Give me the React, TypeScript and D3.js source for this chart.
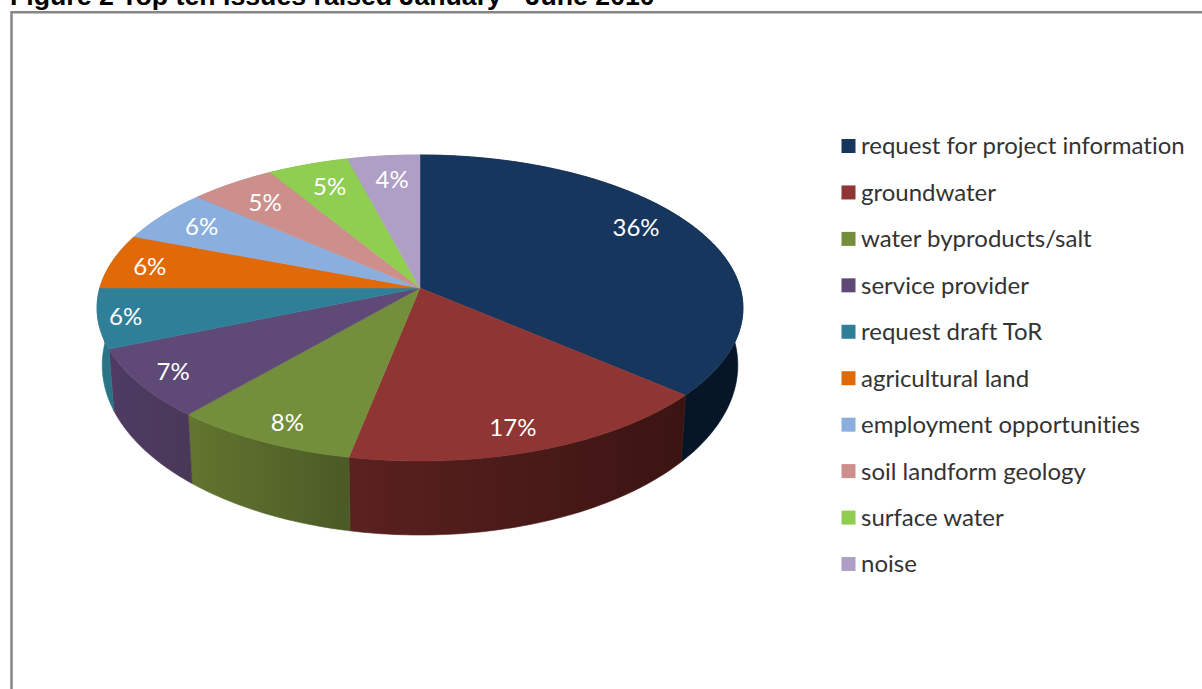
import React from 'react';
import * as d3 from 'd3';

const categories = [
  'request for project information',
  'groundwater',
  'water byproducts/salt',
  'service provider',
  'request draft ToR',
  'agricultural land',
  'employment opportunities',
  'soil landform geology',
  'surface water',
  'noise',
];
const values = [36.3, 16.8, 8.2, 7.4, 6.3, 5.8, 5.6, 4.9, 4.6, 4.1];
const topColors = ['#17365d', '#8f3533', '#748f3c', '#5f4976', '#2f7f99', '#e16a08', '#8aafdf', '#cd8f8c', '#8fce50', '#af9ec5'];
const wallLeft = ['#071626', '#5a211f', '#63752f', '#4f3b63', '#2a7488', '#b85608', '#7394bc', '#b37b79', '#78ab42', '#9385a4'];
const wallRight = ['#071626', '#3b1412', '#4b5a26', '#4a3859', '#2a7488', '#b85608', '#7394bc', '#b37b79', '#78ab42', '#9385a4'];

const title = 'Figure 2 Top ten issues raised January - June 2010';

// pie projection: apex, half axes and perspective
const apex = { x: 420, y: 288 };
const B = 320.2;
const A = 150.4;
const k = 0.1307;
const depthScaleX = 0.984;
const depthScaleY = 1.11;
const depthOffsetY = 23.3;

// excel's best-fit labels don't sit on one radius, so shift each one by hand
const labelNudge = [[-7, -12], [0, 13], [-9, 15], [-26, 8], [-38, 4], [-23, 0], [-10, -3], [-2, 0], [1, 0], [2, 0]];

const project = (angle: number, r = 1): [number, number] => {
  const u = Math.sin(angle) * r;
  const v = -Math.cos(angle) * r;
  const d = 1 - k * v;
  return [apex.x + (B * u) / d, apex.y + (A * v) / d];
};
const projectBottom = (angle: number): [number, number] => {
  const [x, y] = project(angle);
  return [apex.x + (x - apex.x) * depthScaleX, y * depthScaleY + depthOffsetY];
};

const arcAngles = (a0: number, a1: number) => {
  const n = Math.max(2, Math.ceil(((a1 - a0) * 180) / Math.PI));
  return d3.range(n + 1).map((i) => a0 + ((a1 - a0) * i) / n);
};

export default function App() {
  const slices = d3.pie<number>().sort(null)(values);
  const line = d3.line();
  const pct = d3.format('.0f');

  const legendY = d3.scalePoint<string>().domain(categories).range([146, 564]);

  return (
    <svg width={1202} height={689} style={{ position: 'absolute', left: 0, top: 0, background: '#fff' }}>
      <defs>
        {slices.map((s, i) => {
          const xs = arcAngles(s.startAngle, s.endAngle).map((a) => project(a)[0]);
          return (
            <linearGradient
              key={i}
              id={`wall${i}`}
              gradientUnits="userSpaceOnUse"
              x1={d3.min(xs)}
              x2={d3.max(xs)}
              y1={0}
              y2={0}
            >
              <stop offset="0" stopColor={wallLeft[i]} />
              <stop offset="1" stopColor={wallRight[i]} />
            </linearGradient>
          );
        })}
      </defs>

      <text x={10} y={5} fontFamily="'Liberation Sans', Arial, sans-serif" fontWeight="bold" fontSize={26.7} fill="#000">
        {title}
      </text>
      <path d="M1202,12.3H11.5V689" fill="none" stroke="#868686" strokeWidth={2.5} />

      {slices.map((s, i) => {
        const angles = arcAngles(s.startAngle, s.endAngle);
        const pts = [...angles.map((a) => project(a)), ...angles.slice().reverse().map((a) => projectBottom(a))];
        return <path key={i} d={line(pts) + 'Z'} fill={`url(#wall${i})`} stroke={`url(#wall${i})`} strokeWidth={0.6} />;
      })}

      {slices.map((s, i) => {
        const angles = arcAngles(s.startAngle, s.endAngle);
        const pts: [number, number][] = [[apex.x, apex.y], ...angles.map((a) => project(a))];
        return <path key={i} d={line(pts) + 'Z'} fill={topColors[i]} stroke={topColors[i]} strokeWidth={0.5} />;
      })}

      {slices.map((s, i) => {
        const [x, y] = project((s.startAngle + s.endAngle) / 2, 0.8);
        return (
          <text
            key={i}
            x={x + labelNudge[i][0]}
            y={y + labelNudge[i][1]}
            dy="0.35em"
            textAnchor="middle"
            fontFamily="Lato, sans-serif"
            fontSize={24}
            fill="#fff"
          >
            {pct(s.data)}%
          </text>
        );
      })}

      {categories.map((c, i) => (
        <g key={c} transform={`translate(841.5,${legendY(c)})`}>
          <rect x={0} y={-7} width={14} height={14} fill={topColors[i]} />
          <text
            x={19.5}
            y={0}
            dy="0.35em"
            fontFamily="Lato, sans-serif"
            fontSize={24}
            fill="#333"
            style={{ fontVariantLigatures: 'none' }}
          >
            {c}
          </text>
        </g>
      ))}
    </svg>
  );
}
